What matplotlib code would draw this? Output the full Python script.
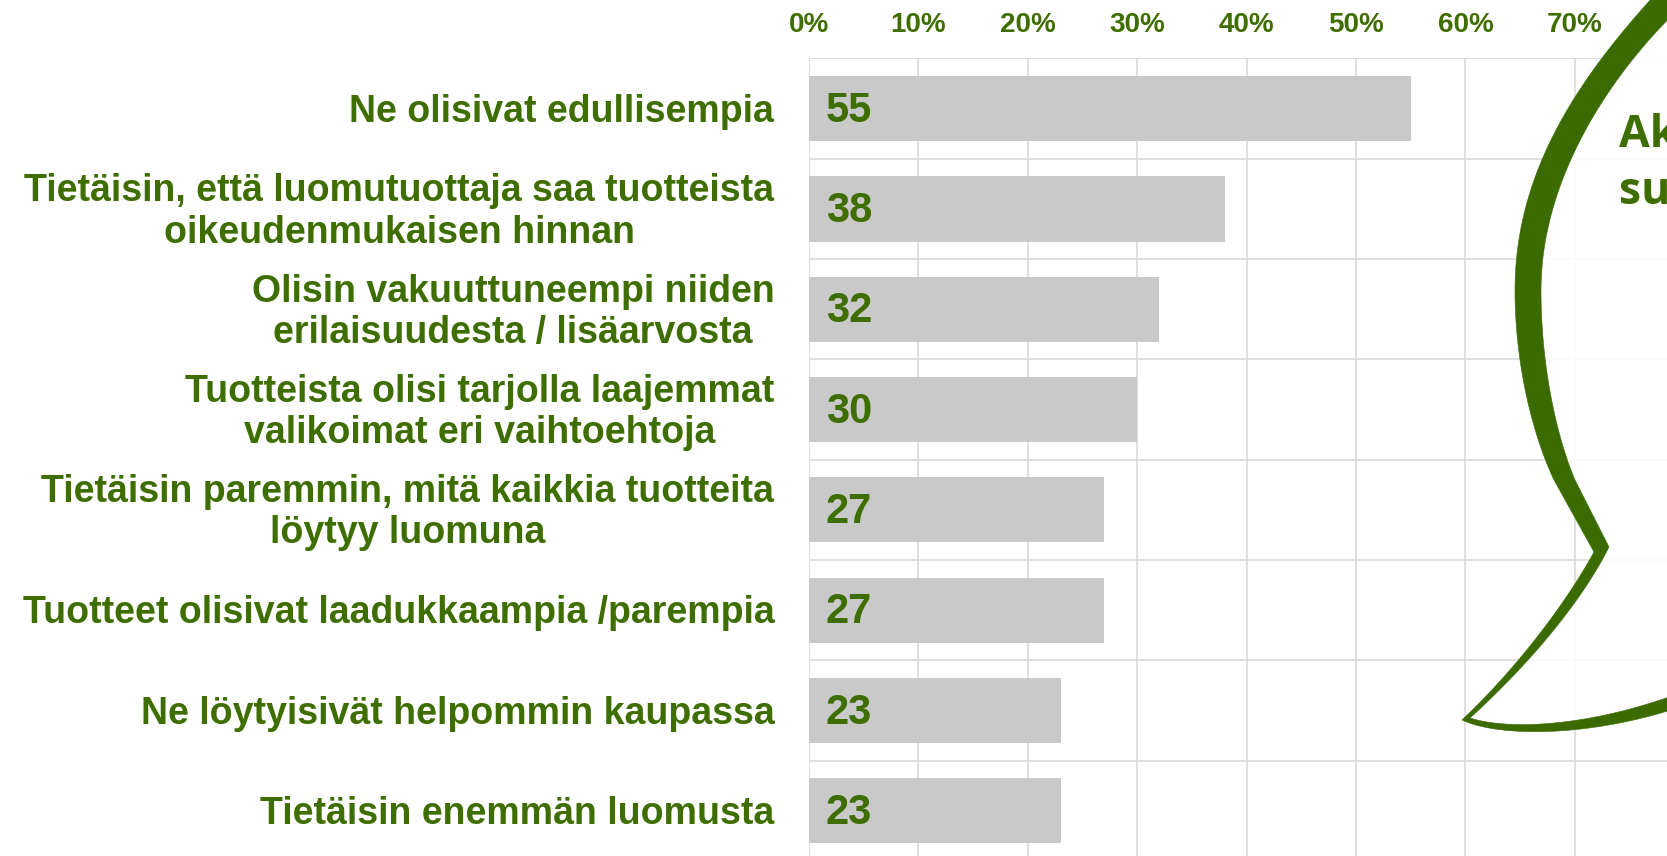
import matplotlib
matplotlib.use("Agg")
import numpy as np
import matplotlib.pyplot as plt
from matplotlib.path import Path
from matplotlib.patches import PathPatch, Polygon

# survey answers (percent)
categories = [
    "Ne olisivat edullisempia",
    "Tietäisin, että luomutuottaja saa tuotteista\noikeudenmukaisen hinnan",
    "Olisin vakuuttuneempi niiden\nerilaisuudesta / lisäarvosta",
    "Tuotteista olisi tarjolla laajemmat\nvalikoimat eri vaihtoehtoja",
    "Tietäisin paremmin, mitä kaikkia tuotteita\nlöytyy luomuna",
    "Tuotteet olisivat laadukkaampia /parempia",
    "Ne löytyisivät helpommin kaupassa",
    "Tietäisin enemmän luomusta",
]
values = [55, 38, 32, 30, 27, 27, 23, 23]
ticks = [0, 10, 20, 30, 40, 50, 60, 70]
tick_labels = ["0%", "10%", "20%", "30%", "40%", "50%", "60%", "70%"]
bubble_lines = ["Ak", "su"]

GREEN = "#3f6e00"
W, H = 1667, 856

fig = plt.figure(figsize=(W / 100, H / 100), dpi=100)
fig.patch.set_facecolor("white")

# axes placed in pixel terms, right part runs off the picture
left, top = 809, 58.5
row_h = 100.3
x_per_pct = 10.94
ax_w = W - left
ax_h = row_h * len(categories)
ax = fig.add_axes([left / W, 1 - (top + ax_h) / H, ax_w / W, ax_h / H])

y = list(range(len(categories)))
ax.barh(y, values, height=0.65, color="#c9c9c9", zorder=2)
ax.set_xlim(0, ax_w / x_per_pct)
ax.set_ylim(len(categories) - 0.5, -0.5)

for i, v in enumerate(values):
    ax.annotate(str(v), xy=(0, i), xytext=(12, -1.5), textcoords="offset points",
                ha="left", va="center", fontsize=30, color=GREEN,
                fontfamily="Liberation Sans", fontweight="bold", zorder=3)

for i, c in enumerate(categories):
    ax.annotate(c, xy=(0, i), xytext=(-25, -2.2), textcoords="offset points",
                ha="right", va="center", multialignment="center",
                fontsize=27, color=GREEN, fontfamily="Liberation Sans",
                fontweight="bold", linespacing=1.18)

ax.xaxis.tick_top()
ax.set_xticks(ticks)
ax.set_xticklabels(tick_labels, fontsize=20, color=GREEN,
                   fontfamily="Liberation Sans", fontweight="bold")
ax.tick_params(axis="x", length=0, pad=15)
ax.set_yticks([i + 0.5 for i in range(-1, len(categories))])
ax.set_yticklabels([])
ax.tick_params(axis="y", length=0)
ax.grid(True, color="#d9d9d9", linewidth=1.2, zorder=0)
ax.set_axisbelow(True)
for s in ax.spines.values():
    s.set_visible(False)


# speech bubble outline (pixel coords, y down) built from cubic pieces
def bez(p0, p1, p2, p3, n=40):
    t = np.linspace(0, 1, n)[:, None]
    p0, p1, p2, p3 = (np.array(p, float) for p in (p0, p1, p2, p3))
    return (1 - t) ** 3 * p0 + 3 * (1 - t) ** 2 * t * p1 + 3 * (1 - t) * t ** 2 * p2 + t ** 3 * p3


def to_fig(pts):
    pts = np.asarray(pts, float)
    return np.column_stack([pts[:, 0] / W, 1 - pts[:, 1] / H])


outer = np.vstack([
    bez((1664, -15), (1580, 75), (1515, 170), (1515, 290)),
    bez((1515, 290), (1515, 370), (1535, 440), (1554, 480)),
    [(1594, 552)],
    bez((1594, 552), (1565, 605), (1515, 670), (1462, 720)),
    bez((1462, 720), (1500, 738), (1600, 738), (1700, 700)),
    [(1760, 700), (1760, -15)],
])
inner = np.vstack([
    bez((1705, -15), (1622, 55), (1541, 170), (1541, 290)),
    bez((1541, 290), (1541, 370), (1558, 440), (1575, 480)),
    [(1609, 547)],
    bez((1609, 547), (1580, 605), (1525, 668), (1470, 718)),
    bez((1470, 718), (1510, 731), (1600, 727), (1700, 685)),
    [(1760, 685), (1760, -15)],
])

fo = to_fig(outer)
fi = to_fig(inner)[::-1]
verts = np.vstack([fo, fo[:1], fi, fi[:1]])
codes = ([Path.MOVETO] + [Path.LINETO] * (len(fo) - 1) + [Path.CLOSEPOLY]
         + [Path.MOVETO] + [Path.LINETO] * (len(fi) - 1) + [Path.CLOSEPOLY])

fig.patches.append(Polygon(to_fig(inner), closed=True, facecolor="white", alpha=0.9,
                           edgecolor="none", transform=fig.transFigure, zorder=5))
fig.patches.append(PathPatch(Path(verts, codes), facecolor="#3b6b00", edgecolor="#3b6b00",
                             linewidth=0.4, transform=fig.transFigure, zorder=6))

fig.text(1619 / W, 1 - 147 / H, bubble_lines[0], fontsize=32, color=GREEN,
         fontfamily="Open Sans", fontweight="bold", va="baseline", ha="left", zorder=7)
fig.text(1619 / W, 1 - 204 / H, bubble_lines[1], fontsize=32, color=GREEN,
         fontfamily="Open Sans", fontweight="bold", va="baseline", ha="left", zorder=7)

fig.savefig("out.png", dpi=100)
